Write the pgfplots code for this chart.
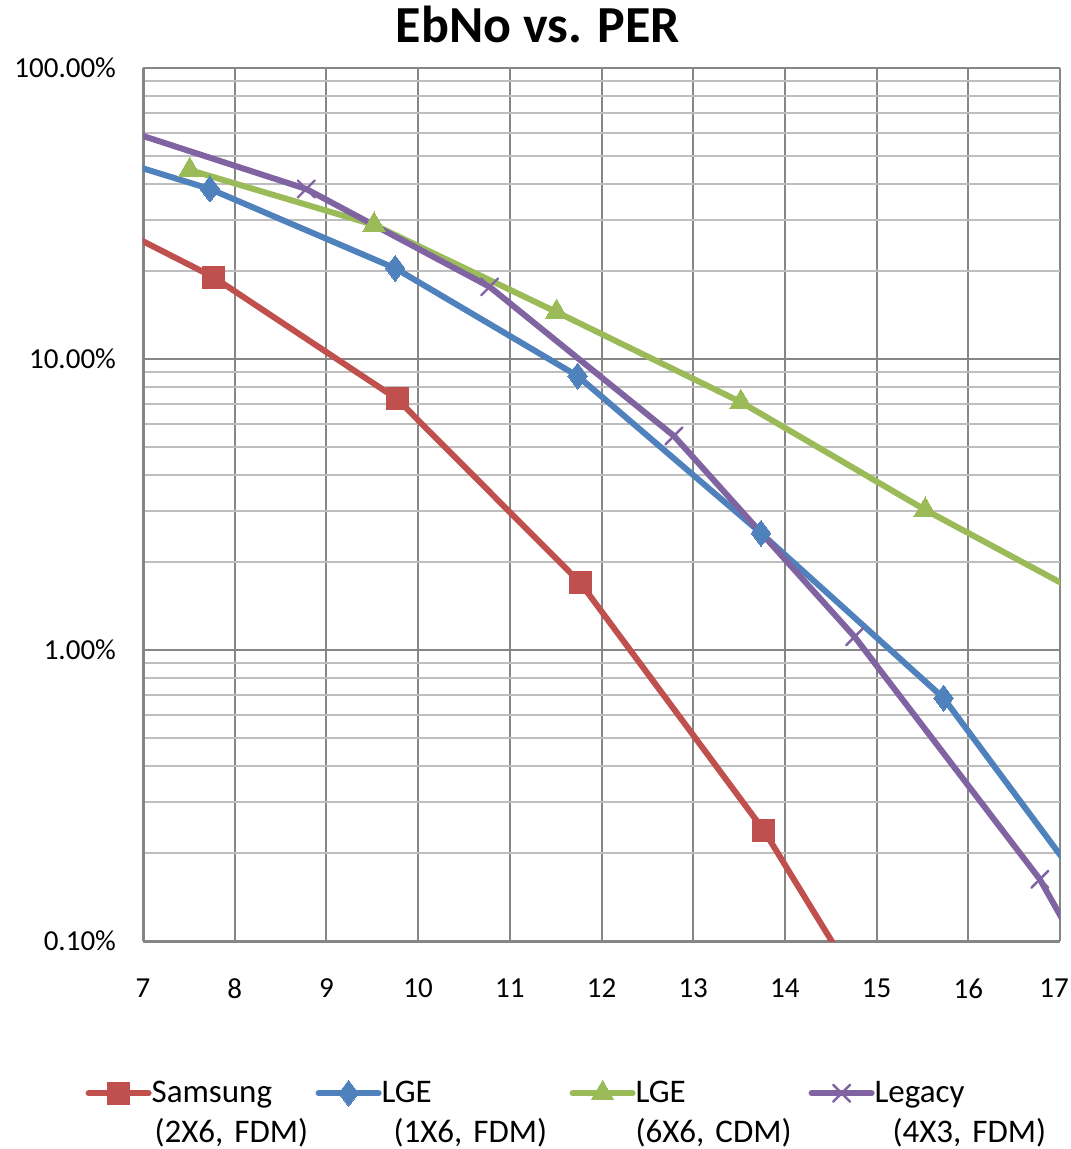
\documentclass[border=0pt]{standalone}
\usepackage{fontspec}
\setmainfont{Carlito}
\usepackage{pgfplots}
\pgfplotsset{compat=1.18}
\definecolor{cRed}{HTML}{C0504D}
\definecolor{cBlue}{HTML}{4F81BD}
\definecolor{cGreen}{HTML}{9BBB59}
\definecolor{cPurple}{HTML}{8064A2}
\definecolor{gMaj}{HTML}{868686}
\definecolor{gMin}{HTML}{BEBEBE}
\begin{document}
\begin{tikzpicture}
\path[use as bounding box] (-71.5pt,-104pt) rectangle (463.5pt,470.5pt);
\node[font=\bfseries\fontsize{26}{30}\selectfont, anchor=base] at (197.5pt,449pt) {EbNo vs. PER};
\begin{axis}[
  at={(0pt,0pt)}, anchor=south west,
  scale only axis,
  width=458.5pt, height=436.5pt,
  ymode=log,
  xmin=7, xmax=17, ymin=0.1, ymax=100,
  xtick={7,8,...,17},
  xticklabels={7,8,9,10,11,12,13,14,15,16,{\hspace*{-6pt}17}},
  ytick={0.1,1,10,100},
  yticklabels={0.10\%,1.00\%,10.00\%,100.00\%},
  minor ytick={0.2,0.3,0.4,0.5,0.6,0.7,0.8,0.9,2,3,4,5,6,7,8,9,20,30,40,50,60,70,80,90},
  xmajorgrids, ymajorgrids, yminorgrids,
  major grid style={draw=gMaj, line width=1pt},
  minor grid style={draw=gMin, line width=1pt},
  major tick length=0pt, minor tick length=0pt,
  axis x line*=bottom, axis y line*=left,
  axis line style={draw=gMaj, line width=1.5pt, -},
  /pgf/number format/assume math mode=true,
  tick label style={font=\fontsize{14.5}{17}\selectfont},
  yticklabel style={xshift=-10pt},
  xticklabel style={yshift=-15.5pt},
  legend columns=4,
  legend style={at={(axis description cs:-0.063,-0.159)}, anchor=north west,
    draw=none, fill=none, inner sep=0pt, font=\fontsize{16.5}{20}\selectfont,
    nodes={inner sep=0pt},
    /tikz/every odd column/.style={column sep=0pt},
    /tikz/every even column/.style={column sep=0pt}},
  legend cell align=left,
  legend image code/.code={\draw[mark repeat=2,mark phase=2,#1] plot coordinates {(0pt,0pt) (15pt,0pt) (30pt,0pt)};},
  every axis plot/.append style={line width=3pt, line cap=round, line join=round},
]
\addplot[color=cRed, mark=square*, mark size=5.5pt, mark options={line width=0pt, fill=cRed}]
  coordinates {(5.77,40) (7.77,19.1) (9.77,7.29) (11.77,1.70) (13.77,0.24) (15.77,0.0225)};
\addlegendentry[text width=82pt, align=left]{Samsung\\\hspace*{1.5pt}(2X6, FDM)}
\addplot[color=cBlue, mark=diamond*, mark size=6.5pt, mark options={line width=0pt, fill=cBlue}]
  coordinates {(5.73,60) (7.73,38.4) (9.75,20.5) (11.74,8.74) (13.74,2.52) (15.73,0.684) (17.73,0.097)};
\addlegendentry[text width=94pt, align=left]{LGE\\\hspace*{6pt}(1X6, FDM)}
\addplot[color=cGreen, mark=triangle*, mark size=6.5pt, mark options={line width=0pt, fill=cGreen}]
  coordinates {(7.51,44.6) (9.52,28.9) (11.51,14.5) (13.52,7.11) (15.53,3.03) (17.53,1.39)};
\addlegendentry[text width=86.5pt, align=left]{LGE\\(6X6, CDM)}
\addplot[color=cPurple, mark=x, mark size=6pt, mark options={line width=1.2pt}]
  coordinates {(6.78,61.5) (8.78,38.4) (10.78,17.7) (12.79,5.44) (14.76,1.11) (16.78,0.163) (18.78,0.0124)};
\addlegendentry[text width=90pt, align=left]{Legacy\\\hspace*{9pt}(4X3, FDM)}
\end{axis}
\end{tikzpicture}
\end{document}
